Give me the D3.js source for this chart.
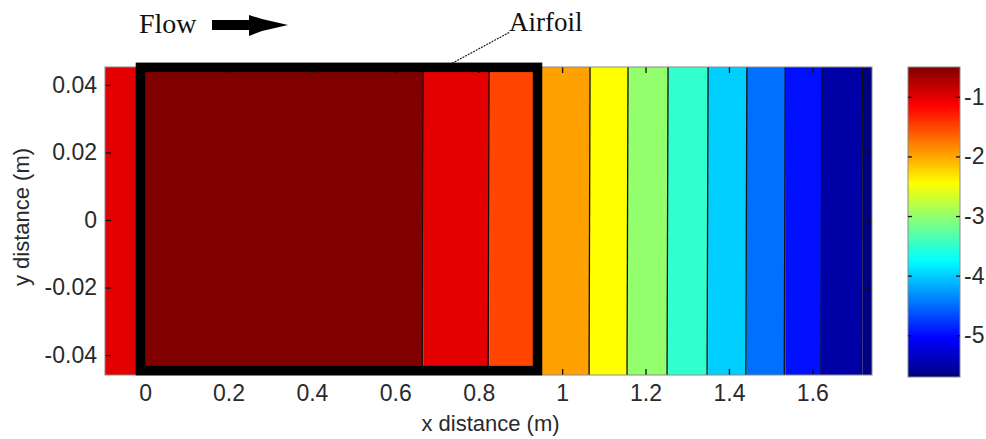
<!DOCTYPE html>
<html lang="en">
<head>
<meta charset="utf-8">
<title>Airfoil contour</title>
<script src="https://d3js.org/d3.v7.min.js"></script>
<style>
 body { margin: 0; background: #fff; }
 svg { display: block; }
 .tick text { font-family: "Liberation Sans", Arial, sans-serif; font-size: 23px; fill: #2a2a2a; }
 .lbl { font-family: "Liberation Sans", Arial, sans-serif; font-size: 22px; fill: #2a2a2a; }
 .note { font-family: "Liberation Serif", "Times New Roman", serif; fill: #111; }
</style>
</head>
<body>
<script>
// contour bands: x boundaries (m) and the field value in each band
var bandEdges = [-0.096, -0.015, 0.667, 0.825, 0.94, 1.067, 1.158, 1.254, 1.35, 1.443, 1.535, 1.623, 1.72, 1.743];
var bandValues = [-1.0, -0.5, -1.0, -1.5, -1.97, -2.45, -3.0, -3.5, -4.0, -4.48, -4.97, -5.5, -5.7];

var xTicks = [0, 0.2, 0.4, 0.6, 0.8, 1, 1.2, 1.4, 1.6];
var yTicks = [-0.04, -0.02, 0, 0.02, 0.04];
var cTicks = [-1, -2, -3, -4, -5];

var xDomain = [-0.096, 1.743];
var yDomain = [-0.0459, 0.0453];
var cDomain = [-5.7, -0.5];

// airfoil outline (m)
var airfoilX = [-0.011, 0.941];
var airfoilY = [-0.0446, 0.0452];

var W = 986, H = 439;
var plot = {left: 105, top: 67, right: 872, bottom: 375};
var cbar = {left: 908, right: 960};

var svg = d3.select("body").append("svg")
    .attr("width", W).attr("height", H);

var x = d3.scaleLinear().domain(xDomain).range([plot.left, plot.right]);
var y = d3.scaleLinear().domain(yDomain).range([plot.bottom, plot.top]);
var cy = d3.scaleLinear().domain(cDomain).range([plot.bottom + 2, plot.top]);

// jet colormap
var jet = d3.scaleLinear()
    .domain([0, 1/8, 3/8, 5/8, 7/8, 1])
    .range(["#000080", "#0000ff", "#00ffff", "#ffff00", "#ff0000", "#800000"])
    .interpolate(d3.interpolateRgb);
var tScale = d3.scaleLinear().domain(cDomain).range([0, 1]).clamp(true);
var color = function (v) { return jet(tScale(v)); };

var bands = bandValues.map(function (v, i) {
    return {x0: bandEdges[i], x1: bandEdges[i + 1], v: v};
});

// filled bands
svg.append("g").selectAll("rect")
    .data(bands)
    .enter()
    .append("rect")
    .attr("x", function (d) { return x(d.x0); })
    .attr("y", plot.top)
    .attr("width", function (d) { return x(d.x1) - x(d.x0); })
    .attr("height", plot.bottom - plot.top)
    .style("fill", function (d) { return color(d.v); });

// contour lines
svg.append("g").selectAll("line")
    .data(bandEdges.slice(1, -1))
    .enter()
    .append("line")
    .attr("x1", function (d) { return x(d); })
    .attr("x2", function (d) { return x(d) - 1; })
    .attr("y1", plot.top)
    .attr("y2", plot.bottom)
    .style("stroke", "#111")
    .style("stroke-width", 1.3);

// axes, ticks pointing inward
var xAxis = svg.append("g")
    .attr("transform", "translate(0," + plot.bottom + ")")
    .call(d3.axisBottom(x).tickValues(xTicks).tickFormat(d3.format("")).tickSizeInner(-6).tickSizeOuter(0).tickPadding(10));
svg.append("g")
    .attr("transform", "translate(0," + plot.top + ")")
    .call(d3.axisTop(x).tickValues(xTicks).tickFormat("").tickSizeInner(-6).tickSizeOuter(0));
var yAxis = svg.append("g")
    .attr("transform", "translate(" + plot.left + ",0)")
    .call(d3.axisLeft(y).tickValues(yTicks).tickFormat(d3.format("")).tickSizeInner(-6).tickSizeOuter(0).tickPadding(8));
svg.append("g")
    .attr("transform", "translate(" + plot.right + ",0)")
    .call(d3.axisRight(y).tickValues(yTicks).tickFormat("").tickSizeInner(-6).tickSizeOuter(0));
svg.selectAll(".domain").remove();
svg.selectAll(".tick line").style("stroke", "#111").style("stroke-width", 1.3);

// plot frame
svg.append("rect")
    .attr("x", plot.left).attr("y", plot.top)
    .attr("width", plot.right - plot.left).attr("height", plot.bottom - plot.top)
    .style("fill", "none").style("stroke", "#8a8a8a").style("stroke-width", 1);

// airfoil outline
svg.append("rect")
    .attr("x", x(airfoilX[0])).attr("y", y(airfoilY[1]))
    .attr("width", x(airfoilX[1]) - x(airfoilX[0]))
    .attr("height", y(airfoilY[0]) - y(airfoilY[1]))
    .style("fill", "none").style("stroke", "#000").style("stroke-width", 9.5);

// axis labels
svg.append("text").attr("class", "lbl")
    .attr("x", (plot.left + plot.right) / 2 + 2).attr("y", 431)
    .attr("text-anchor", "middle")
    .text("x distance (m)");
svg.append("text").attr("class", "lbl")
    .attr("transform", "translate(29," + ((plot.top + plot.bottom) / 2 - 4) + ") rotate(-90)")
    .attr("text-anchor", "middle")
    .text("y distance (m)");

// colorbar
var grad = svg.append("defs").append("linearGradient")
    .attr("id", "jet").attr("x1", 0).attr("y1", 1).attr("x2", 0).attr("y2", 0);
grad.selectAll("stop")
    .data(d3.range(0, 1.0001, 1 / 64))
    .enter()
    .append("stop")
    .attr("offset", function (d) { return d; })
    .attr("stop-color", function (d) { return jet(d); });
svg.append("rect")
    .attr("x", cbar.left).attr("y", cy(cDomain[1]))
    .attr("width", cbar.right - cbar.left)
    .attr("height", cy(cDomain[0]) - cy(cDomain[1]))
    .style("fill", "url(#jet)").style("stroke", "#8a8a8a").style("stroke-width", 1);
svg.append("g")
    .attr("transform", "translate(" + cbar.right + ",0)")
    .call(d3.axisRight(cy).tickValues(cTicks).tickFormat(d3.format("")).tickSizeInner(-4).tickSizeOuter(0).tickPadding(4));
svg.append("g")
    .attr("transform", "translate(" + cbar.left + ",0)")
    .call(d3.axisLeft(cy).tickValues(cTicks).tickFormat("").tickSizeInner(-4).tickSizeOuter(0));
svg.selectAll(".domain").remove();
svg.selectAll(".tick line").style("stroke", "#111").style("stroke-width", 1.3);
svg.selectAll(".tick text").text(function () { return this.textContent.replace("\u2212", "-"); });

// annotations
svg.append("text").attr("class", "note")
    .attr("x", 139).attr("y", 33).style("font-size", "28px")
    .text("Flow");
svg.append("path")
    .attr("d", "M212,20 L249,20 L249,15 L262,19 L288,25 L262,31 L249,36 L249,30 L212,30 Z")
    .style("fill", "#000");
svg.append("text").attr("class", "note")
    .attr("x", 509).attr("y", 31).style("font-size", "27px")
    .text("Airfoil");
svg.append("line")
    .attr("x1", x(0.736)).attr("y1", y(airfoilY[1]) - 4)
    .attr("x2", 510).attr("y2", 32)
    .style("stroke", "#222").style("stroke-width", 1.2).style("stroke-dasharray", "2,1");
</script>
</body>
</html>
